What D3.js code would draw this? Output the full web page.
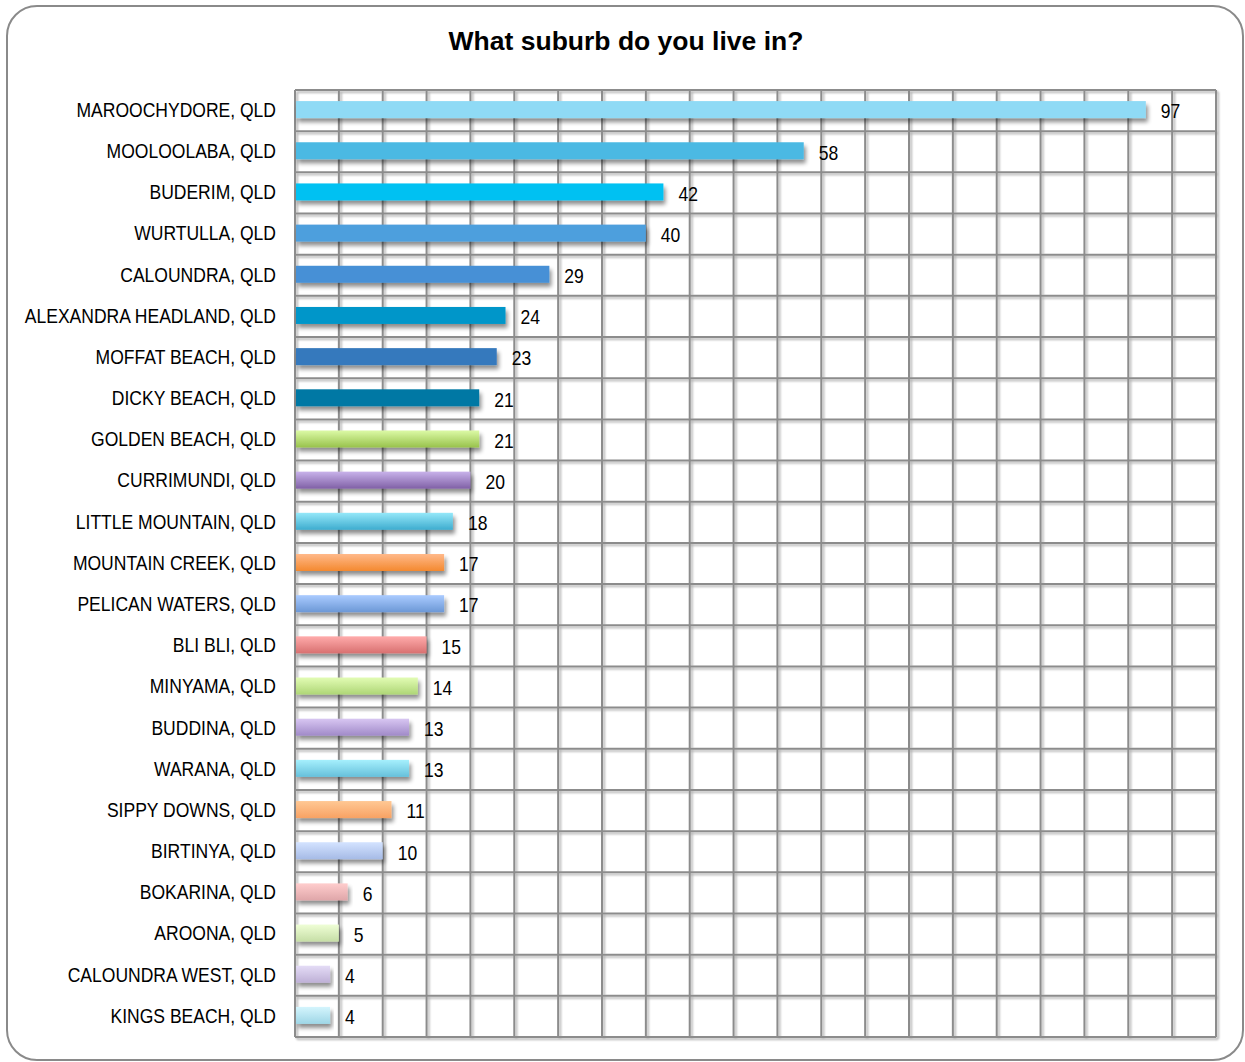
<!DOCTYPE html>
<html><head><meta charset="utf-8">
<script src="https://cdn.jsdelivr.net/npm/d3@7/dist/d3.min.js"></script>
<style>
html,body{margin:0;padding:0;background:#fff;}
svg{display:block;}
</style></head>
<body>
<svg id="chart" width="1245" height="1062"></svg>
<script>
const categories = ["MAROOCHYDORE, QLD","MOOLOOLABA, QLD","BUDERIM, QLD","WURTULLA, QLD","CALOUNDRA, QLD","ALEXANDRA HEADLAND, QLD","MOFFAT BEACH, QLD","DICKY BEACH, QLD","GOLDEN BEACH, QLD","CURRIMUNDI, QLD","LITTLE MOUNTAIN, QLD","MOUNTAIN CREEK, QLD","PELICAN WATERS, QLD","BLI BLI, QLD","MINYAMA, QLD","BUDDINA, QLD","WARANA, QLD","SIPPY DOWNS, QLD","BIRTINYA, QLD","BOKARINA, QLD","AROONA, QLD","CALOUNDRA WEST, QLD","KINGS BEACH, QLD"];
const values = [97,58,42,40,29,24,23,21,21,20,18,17,17,15,14,13,13,11,10,6,5,4,4];
const colorTop = ["#8fdaf5","#4cb9e3","#00c1f2","#4e9fdd","#4690d6","#0096c9","#3479bd","#0078a4","#dcfaa6","#c8b2ea","#95e8f9","#ffb98a","#aacbff","#ffabab","#e2fcb4","#d8c6f2","#a6f0fd","#ffc894","#d4e3ff","#ffcdcd","#effed6","#e4dcf6","#d4f5fd"];
const colorBottom = ["#8fdaf5","#4cb9e3","#00c1f2","#4e9fdd","#4690d6","#0096c9","#3479bd","#0078a4","#98c24c","#8060a6","#3eaccf","#f4892f","#6c98d6","#d87070","#aed676","#a08ac8","#66c0db","#f8a264","#a6bbe6","#dfa6a9","#c6dea6","#beb0d6","#9ed6e6"];
const title = "What suburb do you live in?";

const svg = d3.select("#chart");
const W = 1245, H = 1062;
const margin = {left:295, right:W-1216, top:90, bottom:H-1037};
const FONT = "'Liberation Sans', Arial, sans-serif";
const FS = 21, SX = 0.835; // narrow look: horizontally condensed
const defs = svg.append("defs");
const sh = defs.append("filter").attr("id","shadow").attr("x","-5%").attr("y","-50%").attr("width","115%").attr("height","250%");
sh.append("feGaussianBlur").attr("in","SourceAlpha").attr("stdDeviation",2);
sh.append("feOffset").attr("dx",2).attr("dy",4).attr("result","ob");
sh.append("feComponentTransfer").append("feFuncA").attr("type","linear").attr("slope",0.45);
const mg = sh.append("feMerge"); mg.append("feMergeNode"); mg.append("feMergeNode").attr("in","SourceGraphic");
const gsh = defs.append("filter").attr("id","gshadow").attr("x","-50%").attr("y","-5%").attr("width","200%").attr("height","110%");
gsh.append("feGaussianBlur").attr("in","SourceAlpha").attr("stdDeviation",1);
gsh.append("feOffset").attr("dx",1.5).attr("dy",1.5);
gsh.append("feComponentTransfer").append("feFuncA").attr("type","linear").attr("slope",0.3);
const mg2 = gsh.append("feMerge"); mg2.append("feMergeNode"); mg2.append("feMergeNode").attr("in","SourceGraphic");

categories.forEach((c,i)=>{
  const g = defs.append("linearGradient").attr("id","grad"+i).attr("x1",0).attr("y1",0).attr("x2",0).attr("y2",1);
  g.append("stop").attr("offset","0%").attr("stop-color",colorTop[i]);
  g.append("stop").attr("offset","100%").attr("stop-color",colorBottom[i]);
});

svg.append("rect").attr("x",7).attr("y",6).attr("width",1236).attr("height",1054).attr("rx",30).attr("ry",30)
  .attr("fill","#fff").attr("stroke","#8a8a8a").attr("stroke-width",2);

svg.append("text").attr("x",626).attr("y",50).attr("text-anchor","middle")
  .attr("font-family",FONT).attr("font-weight","bold").attr("font-size",26.5)
  .attr("fill","#000").text(title);

const x = d3.scaleLinear().domain([0,105]).range([margin.left, W-margin.right]);
const y = d3.scaleBand().domain(categories).range([margin.top, H-margin.bottom]).paddingInner(0).paddingOuter(0);

// gridlines
const grid = svg.append("g").attr("filter","url(#gshadow)");
grid.selectAll("line.v").data(d3.range(0,106,5)).join("line")
  .attr("x1",d=>x(d)).attr("x2",d=>x(d)).attr("y1",margin.top).attr("y2",H-margin.bottom)
  .attr("stroke","#8c8c8c").attr("stroke-width",2);
const hb = categories.map(c=>y(c)).concat([H-margin.bottom]);
grid.selectAll("line.h").data(hb).join("line")
  .attr("x1",margin.left).attr("x2",W-margin.right).attr("y1",d=>d).attr("y2",d=>d)
  .attr("stroke","#8c8c8c").attr("stroke-width",2);

// category labels
const yAxis = d3.axisLeft(y).tickSize(0).tickPadding(19);
const ya = svg.append("g").attr("transform",`translate(${margin.left},0)`).call(yAxis);
ya.select(".domain").remove();
ya.selectAll("text").attr("font-family",FONT).attr("font-size",FS).attr("fill","#000")
  .attr("x",-19/SX).attr("dy","0.3em").attr("transform",`scale(${SX},1)`);

// bars
const bh = 17;
svg.append("g").selectAll("rect").data(values).join("rect")
  .attr("x",x(0)+1).attr("y",(d,i)=>y(categories[i])+y.bandwidth()/2-bh/2-1)
  .attr("width",d=>x(d)-x(0)-1).attr("height",bh)
  .attr("fill",(d,i)=>`url(#grad${i})`).attr("filter","url(#shadow)");

// value labels
svg.append("g").selectAll("g").data(values).join("g")
  .attr("transform",(d,i)=>`translate(${x(d)+15},${y(categories[i])+y.bandwidth()/2})`)
  .append("text").attr("transform",`scale(${SX},1)`).attr("dy","0.37em")
  .attr("font-family",FONT).attr("font-size",FS).attr("fill","#000")
  .text(d=>d);
</script>
</body></html>
